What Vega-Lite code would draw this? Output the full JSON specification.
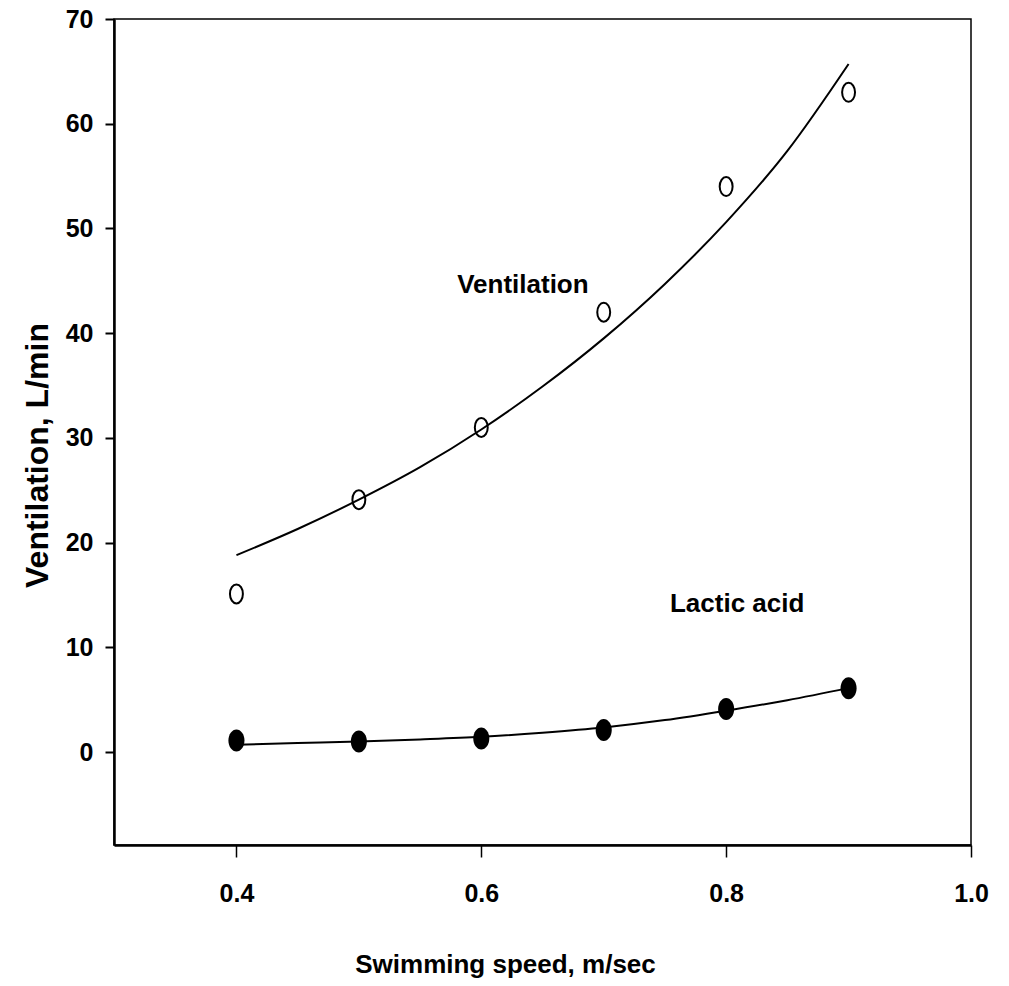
{
  "$schema": "https://vega.github.io/schema/vega-lite/v6.json",
  "width": 857,
  "height": 826,
  "autosize": {"type": "none"},
  "padding": {"left": 114, "top": 19, "right": 38, "bottom": 141},
  "background": "white",
  "config": {
    "view": {"stroke": "black", "strokeWidth": 1.5},
    "font": "Liberation Sans",
    "axis": {
      "grid": false,
      "domainColor": "black",
      "domainWidth": 2.5,
      "tickColor": "black",
      "labelColor": "black",
      "titleColor": "black",
      "labelFont": "Liberation Sans",
      "titleFont": "Liberation Sans",
      "labelFontWeight": "bold",
      "titleFontWeight": "bold",
      "labelFlush": false,
      "labelOverlap": false
    }
  },
  "datasets": {
    "points": [
      {"speed": 0.4, "value": 15.1, "series": "Ventilation"},
      {"speed": 0.5, "value": 24.1, "series": "Ventilation"},
      {"speed": 0.6, "value": 31.0, "series": "Ventilation"},
      {"speed": 0.7, "value": 42.0, "series": "Ventilation"},
      {"speed": 0.8, "value": 54.0, "series": "Ventilation"},
      {"speed": 0.9, "value": 63.0, "series": "Ventilation"},
      {"speed": 0.4, "value": 1.1, "series": "Lactic acid"},
      {"speed": 0.5, "value": 1.0, "series": "Lactic acid"},
      {"speed": 0.6, "value": 1.3, "series": "Lactic acid"},
      {"speed": 0.7, "value": 2.1, "series": "Lactic acid"},
      {"speed": 0.8, "value": 4.1, "series": "Lactic acid"},
      {"speed": 0.9, "value": 6.1, "series": "Lactic acid"}
    ],
    "curves": [
      {"speed": 0.4, "value": 18.8, "series": "Ventilation"},
      {"speed": 0.45, "value": 21.3, "series": "Ventilation"},
      {"speed": 0.5, "value": 24.1, "series": "Ventilation"},
      {"speed": 0.55, "value": 27.2, "series": "Ventilation"},
      {"speed": 0.6, "value": 30.8, "series": "Ventilation"},
      {"speed": 0.65, "value": 34.9, "series": "Ventilation"},
      {"speed": 0.7, "value": 39.5, "series": "Ventilation"},
      {"speed": 0.75, "value": 44.7, "series": "Ventilation"},
      {"speed": 0.8, "value": 50.6, "series": "Ventilation"},
      {"speed": 0.85, "value": 57.4, "series": "Ventilation"},
      {"speed": 0.9, "value": 65.7, "series": "Ventilation"},
      {"speed": 0.4, "value": 0.7, "series": "Lactic acid"},
      {"speed": 0.45, "value": 0.85, "series": "Lactic acid"},
      {"speed": 0.5, "value": 1.0, "series": "Lactic acid"},
      {"speed": 0.55, "value": 1.2, "series": "Lactic acid"},
      {"speed": 0.6, "value": 1.45, "series": "Lactic acid"},
      {"speed": 0.65, "value": 1.85, "series": "Lactic acid"},
      {"speed": 0.7, "value": 2.35, "series": "Lactic acid"},
      {"speed": 0.75, "value": 3.05, "series": "Lactic acid"},
      {"speed": 0.8, "value": 3.95, "series": "Lactic acid"},
      {"speed": 0.85, "value": 4.95, "series": "Lactic acid"},
      {"speed": 0.9, "value": 6.1, "series": "Lactic acid"}
    ],
    "labels": [
      {"speed": 0.634, "value": 44.6, "label": "Ventilation"},
      {"speed": 0.809, "value": 14.1, "label": "Lactic acid"}
    ]
  },
  "encoding": {
    "x": {
      "field": "speed",
      "type": "quantitative",
      "scale": {"domain": [0.3, 1.0], "nice": false, "zero": false},
      "axis": {
        "values": [0.4, 0.6, 0.8, 1.0],
        "format": ".1f",
        "title": "Swimming speed, m/sec",
        "tickSize": 12,
        "tickWidth": 1.5,
        "labelFontSize": 25,
        "labelPadding": 36,
        "labelBaseline": "middle",
        "titleFontSize": 26,
        "titleX": 391,
        "titleY": 127,
        "titleBaseline": "alphabetic"
      }
    },
    "y": {
      "field": "value",
      "type": "quantitative",
      "scale": {"domain": [-8.88, 70], "nice": false, "zero": false},
      "axis": {
        "values": [0, 10, 20, 30, 40, 50, 60, 70],
        "title": "Ventilation, L/min",
        "tickSize": 9,
        "tickWidth": 2,
        "labelFontSize": 25,
        "labelPadding": 12,
        "titleFontSize": 32,
        "titleX": -67,
        "titleY": 436,
        "titleBaseline": "alphabetic"
      }
    }
  },
  "layer": [
    {
      "data": {"name": "curves"},
      "mark": {"type": "line", "color": "black", "strokeWidth": 2, "interpolate": "monotone"},
      "encoding": {"detail": {"field": "series"}}
    },
    {
      "data": {"name": "points"},
      "transform": [{"filter": "datum.series === 'Ventilation'"}],
      "mark": {
        "type": "point",
        "filled": false,
        "stroke": "black",
        "strokeWidth": 2,
        "opacity": 1,
        "size": 361,
        "shape": "M -0.68 0 A 0.68 1 0 1 1 0.68 0 A 0.68 1 0 1 1 -0.68 0 Z"
      }
    },
    {
      "data": {"name": "points"},
      "transform": [{"filter": "datum.series === 'Lactic acid'"}],
      "mark": {
        "type": "point",
        "filled": true,
        "fill": "black",
        "opacity": 1,
        "size": 484,
        "shape": "M -0.73 0 A 0.73 1 0 1 1 0.73 0 A 0.73 1 0 1 1 -0.73 0 Z"
      }
    },
    {
      "data": {"name": "labels"},
      "mark": {
        "type": "text",
        "font": "Liberation Sans",
        "fontWeight": "bold",
        "fontSize": 26,
        "color": "black",
        "align": "center",
        "baseline": "middle"
      },
      "encoding": {"text": {"field": "label"}}
    }
  ]
}
